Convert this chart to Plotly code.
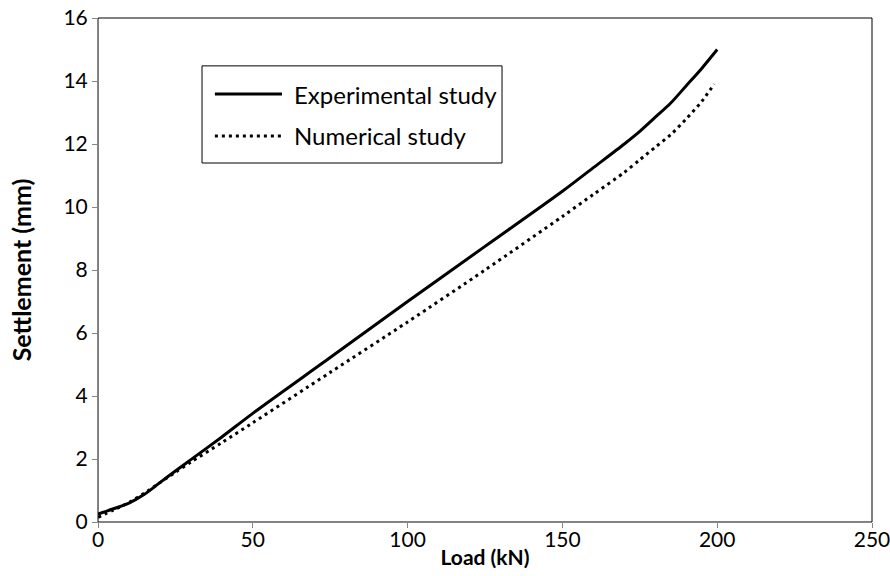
import plotly.graph_objects as go

load_exp = [0, 5, 10, 15, 20, 25, 30, 40, 50, 75, 100, 125, 150, 160, 170, 175, 180, 185, 190, 195, 200]
settle_exp = [0.25, 0.42, 0.6, 0.88, 1.25, 1.62, 1.98, 2.7, 3.45, 5.22, 7.0, 8.75, 10.5, 11.25, 12.0, 12.4, 12.85, 13.3, 13.85, 14.4, 15.0]

load_num = [0, 5, 10, 15, 20, 25, 30, 40, 50, 75, 100, 125, 150, 160, 170, 175, 180, 185, 190, 195, 199]
settle_num = [0.15, 0.38, 0.62, 0.92, 1.25, 1.58, 1.9, 2.52, 3.15, 4.75, 6.35, 8.0, 9.7, 10.4, 11.1, 11.5, 11.9, 12.3, 12.8, 13.35, 13.9]

series_names = ["Experimental study", "Numerical study"]

x_ticks = [0, 50, 100, 150, 200, 250]
y_ticks = [0, 2, 4, 6, 8, 10, 12, 14, 16]

font_family = "Lato, 'Open Sans', sans-serif"
solid_line = dict(color="black", width=3)
dot_line = dict(color="black", width=3, dash="3px,4px")

fig = go.Figure()
fig.add_trace(go.Scatter(x=load_exp, y=settle_exp, mode="lines", name=series_names[0],
                         line=dict(**solid_line, shape="spline", smoothing=0.8)))
fig.add_trace(go.Scatter(x=load_num, y=settle_num, mode="lines", name=series_names[1],
                         line=dict(**dot_line, shape="spline", smoothing=0.8)))

axis_common = dict(showgrid=False, zeroline=False, showline=True, linecolor="#868686", linewidth=1,
                   ticks="outside", ticklen=5, tickcolor="#868686", automargin=False,
                   ticklabeloverflow="allow",
                   tickfont=dict(family=font_family, size=21, color="black"))

fig.update_layout(
    width=890, height=576,
    margin=dict(l=98, r=18, t=18, b=54),
    paper_bgcolor="white", plot_bgcolor="white",
    font=dict(family=font_family, color="black"),
    xaxis=dict(range=[0, 250], tickvals=x_ticks, **axis_common, ticklabelstandoff=-6,
               title=dict(text="<b>Load (kN)</b>", font=dict(family=font_family, size=21), standoff=0)),
    yaxis=dict(range=[0, 16], tickvals=y_ticks, **axis_common,
               title=dict(text="<b>Settlement (mm)</b>", font=dict(family=font_family, size=25), standoff=24)),
    showlegend=False,
)

# plot-area border
fig.add_shape(type="rect", xref="paper", yref="paper", x0=0, y0=0, x1=1, y1=1,
              line=dict(color="black", width=1), layer="below")

# legend box (drawn by hand so the sample lines can be long)
fig.add_shape(type="rect", xref="paper", yref="paper", x0=0.1344, y0=0.7123, x1=0.522, y1=0.905,
              line=dict(color="black", width=1), fillcolor="white", layer="above")
legend_rows = [(0.849, solid_line), (0.766, dot_line)]
for name, (yy, ln) in zip(series_names, legend_rows):
    fig.add_shape(type="line", xref="paper", yref="paper", x0=0.151, x1=0.2377, y0=yy, y1=yy,
                  line=ln, layer="above")
    fig.add_annotation(xref="paper", yref="paper", x=0.2506, y=yy, text=name, showarrow=False,
                       xanchor="left", yanchor="middle",
                       font=dict(family=font_family, size=24, color="black"))

fig.write_html("out.html", config={"displayModeBar": False},
               post_script="document.body.style.margin='0px';document.body.style.overflow='hidden';")
